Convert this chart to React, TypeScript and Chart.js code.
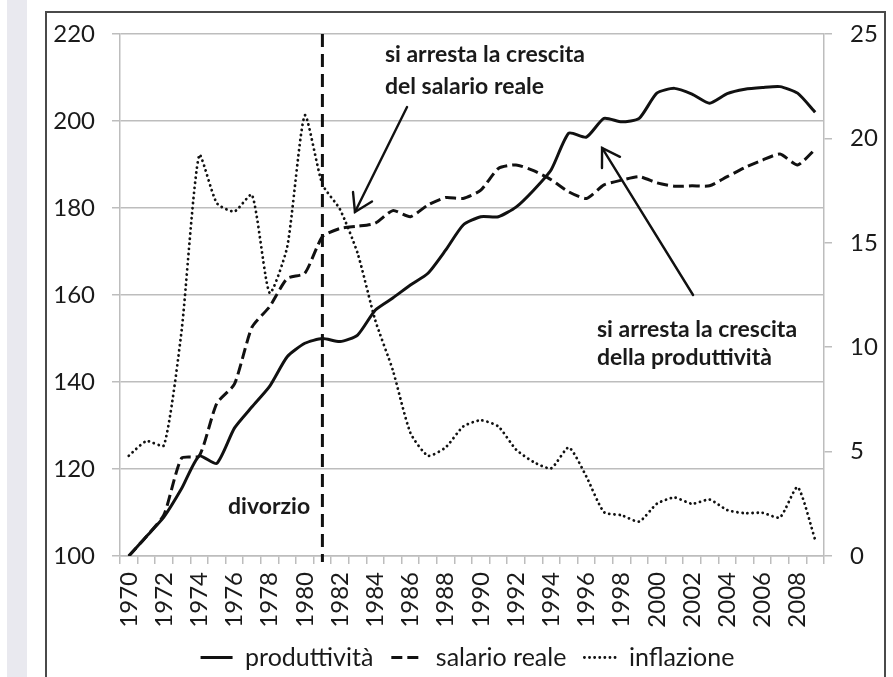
import React, { useEffect, useRef } from "react";
import { Chart, registerables } from "chart.js";

Chart.register(...registerables);

const years = [
  "1970", "1971", "1972", "1973", "1974", "1975", "1976", "1977", "1978", "1979",
  "1980", "1981", "1982", "1983", "1984", "1985", "1986", "1987", "1988", "1989",
  "1990", "1991", "1992", "1993", "1994", "1995", "1996", "1997", "1998", "1999",
  "2000", "2001", "2002", "2003", "2004", "2005", "2006", "2007", "2008", "2009",
];

const produttivita = [
  100, 104.5, 109, 115.5, 123, 121.3, 129.4, 134.3, 139, 145.8,
  148.9, 150, 149.3, 150.8, 156.5, 159.3, 162.3, 165, 170.3, 176.1,
  178, 178, 180.2, 184.1, 188.8, 197.2, 196.3, 200.6, 199.8, 200.6,
  206.4, 207.5, 206.2, 204.1, 206.3, 207.3, 207.7, 207.9, 206.4, 202,
];

const salarioReale = [
  100, 104.5, 109.5, 122.5, 123, 135.1, 139.5, 152.6, 157.3, 163.8,
  165, 173.4, 175.3, 175.8, 176.5, 179.4, 178, 180.7, 182.4, 182.2,
  184.1, 189.1, 189.9, 188.6, 186.5, 183.7, 182.2, 185.3, 186.4, 187.2,
  185.8, 185, 185.1, 185.1, 187.2, 189.3, 191, 192.4, 189.9, 193.5,
];

const inflazione = [
  4.8, 5.5, 5.3, 10.8, 19.2, 16.9, 16.5, 17.3, 12.6, 14.8,
  21.1, 17.8, 16.6, 14.5, 11.3, 8.9, 5.9, 4.8, 5.2, 6.2,
  6.5, 6.2, 5.1, 4.5, 4.2, 5.2, 3.8, 2.1, 1.95, 1.65,
  2.5, 2.8, 2.5, 2.7, 2.2, 2.05, 2.07, 1.85, 3.3, 0.77,
];

const seriesLabels = ["produttività", "salario reale", "inflazione"];

const leftAxis = { min: 100, max: 220, step: 20 };
const rightAxis = { min: 0, max: 25, step: 5 };

const divorzioYear = "1981";

// annotation anchors in data units: [category index, left-axis value]
const arrowSalario = { from: [15.81, 203.2], to: [12.85, 179.1] };
const arrowProd = { from: [32.06, 160.0], to: [26.89, 193.8] };
const textSalario = { at: [14.55, 215.2, 208.0], lines: ["si arresta la crescita", "del salario reale"] };
const textProd = { at: [26.6, 152.0, 145.5], lines: ["si arresta la crescita", "della produttività"] };
const textDivorzio = { at: [5.64, 111.3], text: "divorzio" };

const FONT = "Lato, 'Open Sans', sans-serif";

const annotationPlugin = {
  id: "annotations",
  afterDatasetsDraw(chart: any) {
    const { ctx, chartArea, scales } = chart;
    const xs = scales.x;
    const ys = scales.y;
    const px = (v: number) => xs.getPixelForValue(v);
    const py = (v: number) => ys.getPixelForValue(v);
    ctx.save();

    // vertical dashed line
    const vx = px(years.indexOf(divorzioYear));
    ctx.strokeStyle = "#111";
    ctx.lineWidth = 3;
    ctx.setLineDash([13, 7]);
    ctx.beginPath();
    ctx.moveTo(vx, chartArea.top);
    ctx.lineTo(vx, chartArea.bottom + 6);
    ctx.stroke();
    ctx.setLineDash([]);

    // arrows
    const drawArrow = (a: { from: number[]; to: number[] }) => {
      const x0 = px(a.from[0]);
      const y0 = py(a.from[1]);
      const x1 = px(a.to[0]);
      const y1 = py(a.to[1]);
      ctx.strokeStyle = "#111";
      ctx.lineWidth = 2.4;
      ctx.lineCap = "round";
      ctx.beginPath();
      ctx.moveTo(x0, y0);
      ctx.lineTo(x1, y1);
      ctx.stroke();
      const ang = Math.atan2(y0 - y1, x0 - x1);
      const len = 20;
      const spread = (32 * Math.PI) / 180;
      ctx.beginPath();
      ctx.moveTo(x1 + len * Math.cos(ang - spread), y1 + len * Math.sin(ang - spread));
      ctx.lineTo(x1, y1);
      ctx.lineTo(x1 + len * Math.cos(ang + spread), y1 + len * Math.sin(ang + spread));
      ctx.stroke();
    };
    drawArrow(arrowSalario);
    drawArrow(arrowProd);

    // texts
    ctx.fillStyle = "#1a1a1a";
    ctx.font = `bold 23px ${FONT}`;
    ctx.textAlign = "left";
    ctx.textBaseline = "middle";
    ctx.fillText(textSalario.lines[0], px(textSalario.at[0]), py(textSalario.at[1]));
    ctx.fillText(textSalario.lines[1], px(textSalario.at[0]), py(textSalario.at[2]));
    ctx.fillText(textProd.lines[0], px(textProd.at[0]), py(textProd.at[1]));
    ctx.fillText(textProd.lines[1], px(textProd.at[0]), py(textProd.at[2]));
    ctx.fillText(textDivorzio.text, px(textDivorzio.at[0]), py(textDivorzio.at[1]));

    ctx.restore();
  },
};

export default function App() {
  const ref = useRef<HTMLCanvasElement | null>(null);

  useEffect(() => {
    if (!ref.current) return;
    const gridColor = "#bdbdbd";
    const tickFont = { family: FONT, size: 24 };
    const chart = new Chart(ref.current, {
      type: "line",
      data: {
        labels: years,
        datasets: [
          {
            label: seriesLabels[0],
            data: produttivita,
            yAxisID: "y",
            borderColor: "#111",
            backgroundColor: "#111",
            borderWidth: 3,
            borderDash: [],
            borderCapStyle: "butt",
            pointRadius: 0,
            tension: 0.2,
          },
          {
            label: seriesLabels[1],
            data: salarioReale,
            yAxisID: "y",
            borderColor: "#111",
            backgroundColor: "#111",
            borderWidth: 3,
            borderDash: [11, 5],
            borderCapStyle: "butt",
            pointRadius: 0,
            tension: 0.2,
          },
          {
            label: seriesLabels[2],
            data: inflazione,
            yAxisID: "y1",
            borderColor: "#111",
            backgroundColor: "#111",
            borderWidth: 2.8,
            borderDash: [0.1, 5],
            borderCapStyle: "round",
            pointRadius: 0,
            tension: 0.2,
          },
        ],
      },
      options: {
        animation: false,
        responsive: false,
        maintainAspectRatio: false,
        layout: { padding: { top: 34, left: 42, right: 0, bottom: 0 } },
        plugins: {
          tooltip: { enabled: false },
          legend: {
            display: true,
            position: "bottom",
            maxHeight: 50,
            labels: {
              usePointStyle: true,
              pointStyle: "line",
              pointStyleWidth: 32,
              boxHeight: 20,
              padding: 18,
              color: "#1a1a1a",
              font: { family: FONT, size: 25 },
              generateLabels: (chart: any) => {
                const items = Chart.defaults.plugins.legend.labels.generateLabels(chart);
                return items.map((it: any) => {
                  const ds: any = chart.data.datasets[it.datasetIndex];
                  return {
                    ...it,
                    lineDash: ds.borderDash || [],
                    lineCap: ds.borderCapStyle || "butt",
                    lineWidth: ds.borderWidth,
                    strokeStyle: ds.borderColor,
                    fillStyle: ds.borderColor,
                  };
                });
              },
            },
          },
        },
        scales: {
          x: {
            type: "category",
            offset: true,
            grid: {
              display: true,
              drawOnChartArea: false,
              drawTicks: true,
              tickLength: 8,
              color: gridColor,
              lineWidth: 1.5,
              offset: true,
            },
            border: { display: true, color: gridColor, width: 1.5 },
            ticks: {
              autoSkip: false,
              maxRotation: 90,
              minRotation: 90,
              padding: 8,
              color: "#1a1a1a",
              font: tickFont,
              callback: (_v: any, i: number) => (i % 2 === 0 ? years[i] : ""),
            },
            afterFit: (s: any) => {
              s.height = 71;
            },
          },
          y: {
            position: "left",
            min: leftAxis.min,
            max: leftAxis.max,
            grid: { color: gridColor, lineWidth: 1.5, tickLength: 8 },
            border: { display: true, color: gridColor, width: 1.5 },
            ticks: {
              stepSize: leftAxis.step,
              padding: 17,
              color: "#1a1a1a",
              font: tickFont,
            },
            afterFit: (s: any) => {
              s.width = 78;
            },
          },
          y1: {
            position: "right",
            min: rightAxis.min,
            max: rightAxis.max,
            grid: { drawOnChartArea: false, color: gridColor, lineWidth: 1.5, tickLength: 8 },
            border: { display: true, color: gridColor, width: 1.5 },
            ticks: {
              stepSize: rightAxis.step,
              padding: 18,
              color: "#1a1a1a",
              font: tickFont,
            },
            afterFit: (s: any) => {
              s.width = 69;
            },
          },
        },
      },
      plugins: [annotationPlugin],
    });
    return () => chart.destroy();
  }, []);

  return (
    <div style={{ position: "absolute", left: 0, top: 0, width: 893, height: 677, background: "#fff", overflow: "hidden" }}>
      <div style={{ position: "absolute", left: 7, top: 0, width: 20, height: 677, background: "#e9e9ef" }} />
      <div
        style={{
          position: "absolute",
          left: 45,
          top: 11,
          width: 837,
          height: 700,
          borderLeft: "2px solid #4a4a4a",
          borderTop: "2px solid #4a4a4a",
          borderRight: "2px solid #4a4a4a",
        }}
      />
      <canvas ref={ref} width={893} height={677} style={{ position: "absolute", left: 0, top: 0 }} />
    </div>
  );
}
